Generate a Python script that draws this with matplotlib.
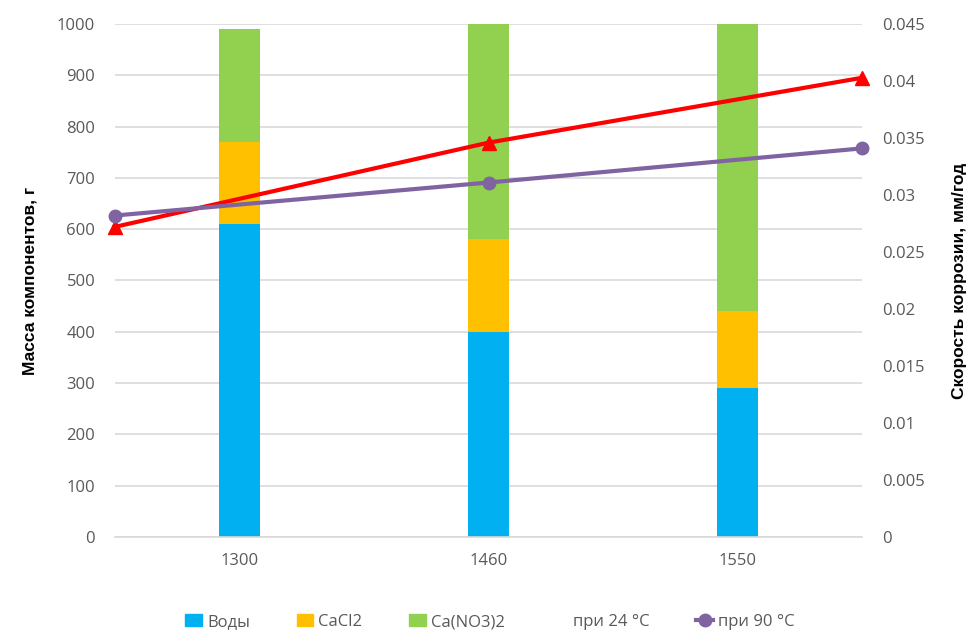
import numpy as np
import matplotlib
matplotlib.use("Agg")
import matplotlib.pyplot as plt
from matplotlib.lines import Line2D
from matplotlib.patches import Patch

plt.rcParams['font.family'] = ['Open Sans', 'DejaVu Sans']

categories = ['1300', '1460', '1550']
water = [610, 400, 290]
cacl2 = [160, 180, 150]
cano3 = [220, 420, 560]
rate_24 = [0.0272, 0.0346, 0.0403]
rate_90 = [0.0282, 0.0311, 0.0341]

c_water = '#00B0F0'
c_cacl2 = '#FFC000'
c_cano3 = '#92D050'
c_red = '#FF0000'
c_purple = '#8064A2'
tick_col = '#595959'
grid_col = '#D9D9D9'

fig = plt.figure(figsize=(9.8, 6.36), dpi=100)
rect = [0.117, 0.156, 0.763, 0.806]
ax = fig.add_axes(rect)

x = np.arange(len(categories))
w = 0.165
bottom2 = np.array(water)
bottom3 = bottom2 + np.array(cacl2)
ax.bar(x, water, w, color=c_water, zorder=2)
ax.bar(x, cacl2, w, bottom=bottom2, color=c_cacl2, zorder=2)
ax.bar(x, cano3, w, bottom=bottom3, color=c_cano3, zorder=2)

ax.set_xlim(-0.5, len(categories) - 0.5)
ax.set_ylim(0, 1000)
ax.set_yticks(np.arange(0, 1001, 100))
ax.set_xticks(x)
ax.set_xticklabels(categories)
ax.yaxis.grid(True, color=grid_col, linewidth=1.2, zorder=0)
ax.set_axisbelow(True)
for s in ['top', 'right', 'left']:
    ax.spines[s].set_visible(False)
ax.spines['bottom'].set_color(grid_col)
ax.spines['bottom'].set_linewidth(1.2)
ax.tick_params(axis='both', length=0, colors=tick_col, labelsize=12)
ax.tick_params(axis='x', pad=12)
ax.tick_params(axis='y', pad=14)
ax.set_ylabel('Масса компонентов, г', fontsize=12.5, fontweight='bold',
              family=['Liberation Sans', 'DejaVu Sans'], labelpad=14)

# line series on secondary axes, spanning the full width
ax2 = fig.add_axes(rect, frameon=False)
ax2.patch.set_visible(False)
xl = np.arange(len(rate_24))
ax2.plot(xl, rate_24, color=c_red, lw=3, marker='^', ms=10, clip_on=False, zorder=3)
ax2.plot(xl, rate_90, color=c_purple, lw=3, marker='o', ms=9, clip_on=False, zorder=3)
ax2.set_xlim(0, len(rate_24) - 1)
ax2.set_ylim(0, 0.045)
ax2.set_yticks(np.arange(0, 0.0451, 0.005))
ax2.set_yticklabels(['0', '0.005', '0.01', '0.015', '0.02', '0.025', '0.03',
                     '0.035', '0.04', '0.045'])
ax2.set_xticks([])
ax2.yaxis.tick_right()
ax2.yaxis.set_label_position('right')
ax2.tick_params(axis='y', length=0, colors=tick_col, labelsize=12, pad=14)
ax2.set_ylabel('Скорость коррозии, мм/год', fontsize=12.5, fontweight='bold',
               family=['Liberation Sans', 'DejaVu Sans'], labelpad=20)

handles = [
    Patch(color=c_water, label='Воды'),
    Patch(color=c_cacl2, label='CaCl2'),
    Patch(color=c_cano3, label='Ca(NO3)2'),
    Line2D([], [], color='none', label='при 24 °C'),
    Line2D([], [], color=c_purple, lw=3, marker='o', ms=9, label='при 90 °C'),
]
fig.legend(handles=handles, loc='center', bbox_to_anchor=(0.5, 0.022), ncol=5,
           frameon=False, fontsize=12, handlelength=1.0, handletextpad=0.3,
           columnspacing=2.8, labelcolor=tick_col)

fig.savefig('out.png', dpi=100)
